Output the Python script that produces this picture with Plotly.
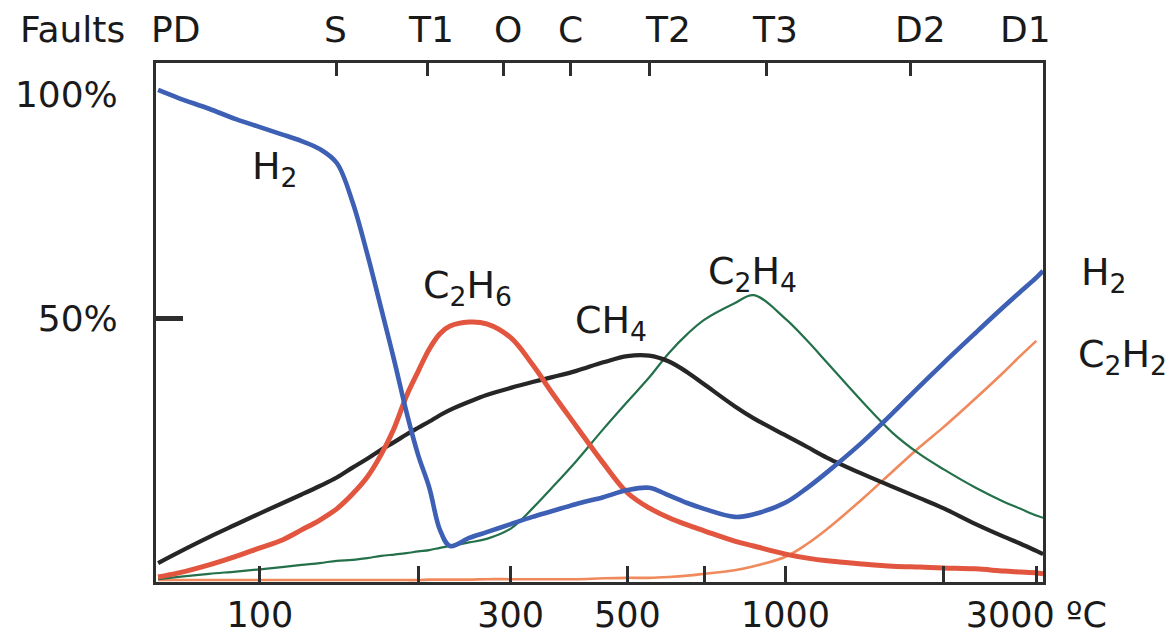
import math
import plotly.graph_objects as go

# Temperature grid (°C) at which the curves were read
temperature_c = [64, 70, 80, 90, 100, 110, 120, 130, 140, 150,
                 160, 170, 180, 190, 200, 210, 220, 230, 250, 270,
                 300, 330, 360, 400, 450, 500, 550, 600, 650, 700,
                 800, 870, 1000, 1100, 1200, 1400, 1600, 1800, 2000, 2300,
                 2600, 2800, 3000, 3090]

# Relative gas proportions (%)
h2_pct = [100.9, 99.1, 96.7, 94.4, 92.6, 91.0, 89.5, 87.7, 84.6, 75.9,
          64.3, 52.2, 40.6, 29.0, 19.4, 12.1, 2.7, -0.9, 0.9, 2.2,
          4.0, 5.6, 6.9, 8.5, 10.0, 11.6, 12.1, 10.4, 8.7, 7.4,
          5.6, 6.2, 8.8, 12.1, 15.6, 22.3, 28.8, 34.8, 40.0, 46.7,
          52.5, 55.9, 59.0, 60.5]

c2h6_pct = [-7.8, -6.9, -5.1, -3.2, -1.3, 0.4, 2.7, 4.9, 7.4, 10.7,
            14.5, 19.5, 25.4, 32.6, 38.1, 43.1, 46.5, 48.2, 49.1, 48.7,
            45.6, 39.6, 33.2, 25.8, 17.6, 11.0, 7.6, 5.4, 3.8, 2.5,
            0.2, -0.9, -2.7, -3.6, -4.2, -4.9, -5.4, -5.6, -5.8, -6.0,
            -6.5, -6.7, -6.9, -7.1]

ch4_pct = [-4.7, -2.3, 1.1, 3.9, 6.4, 8.6, 10.6, 12.5, 14.4, 16.6,
           18.6, 20.6, 22.3, 24.0, 25.5, 26.9, 28.3, 29.5, 31.3, 32.8,
           34.4, 35.7, 36.8, 38.2, 40.1, 41.5, 41.6, 40.3, 37.9, 35.2,
           30.3, 27.6, 23.8, 21.2, 18.8, 15.2, 12.3, 9.8, 7.5, 4.0,
           1.2, -0.4, -2.0, -2.7]

c2h4_pct = [-8.3, -7.8, -7.1, -6.6, -6.1, -5.6, -5.1, -4.7, -4.2, -4.0,
            -3.6, -3.1, -2.8, -2.5, -2.1, -1.8, -1.3, -0.9, -0.1, 0.7,
            3.0, 7.5, 12.2, 18.1, 25.2, 31.3, 36.7, 42.2, 46.4, 49.6,
            53.3, 55.1, 49.8, 44.9, 40.0, 31.3, 24.3, 19.6, 16.2, 12.1,
            9.0, 7.4, 5.9, 5.4]

c2h2_pct = [-8.5, -8.5, -8.5, -8.5, -8.5, -8.5, -8.5, -8.5, -8.5, -8.5,
            -8.5, -8.5, -8.5, -8.5, -8.5, -8.4, -8.4, -8.4, -8.4, -8.3,
            -8.3, -8.3, -8.3, -8.3, -8.1, -8.0, -8.0, -7.8, -7.5, -7.1,
            -6.3, -5.4, -3.3, -0.4, 2.9, 9.6, 15.8, 21.2, 25.7, 32.1,
            37.9, 41.6, 44.9, None]

# Bottom temperature axis
temp_tick_vals = [100, 200, 300, 500, 700, 1000, 2000, 3000]
temp_tick_text = ["100", "", "300", "500", "", "1000", "", "3000 \u00baC"]

# Top fault axis
fault_tick_temps = [140, 208, 290, 390, 550, 920, 1725]
fault_labels = ["PD", "S", "T1", "O", "C", "T2", "T3", "D2", "D1"]
fault_label_temps = [69, 139, 212, 296, 389, 597, 955, 1803, 2855]

# Y axis labels
pct_tick_vals = [50, 100]
pct_tick_text = ["50%", "100%"]

x_range = [1.8022, 3.4898]
y_range = [-8.93, 106.92]

FONT = "DejaVu Sans"
INK = "#1a1a1a"
AXIS = "#2e2e2e"

series = [
    ("C\u2082H\u2082", c2h2_pct, "#f08a5d", 2.6),
    ("C\u2082H\u2084", c2h4_pct, "#23704a", 2.2),
    ("CH\u2084", ch4_pct, "#262626", 4.2),
    ("C\u2082H\u2086", c2h6_pct, "#e2553e", 5.0),
    ("H\u2082", h2_pct, "#3d5fb4", 4.6),
]

fig = go.Figure()
for name, vals, color, width in series:
    fig.add_trace(go.Scatter(
        x=temperature_c, y=vals, mode="lines", name=name,
        line=dict(color=color, width=width, shape="spline", smoothing=1.0),
        connectgaps=False, hoverinfo="skip",
    ))

# invisible traces to attach the overlay axes
fig.add_trace(go.Scatter(x=[temperature_c[0]], y=[None], xaxis="x2", yaxis="y",
                         mode="lines", showlegend=False, hoverinfo="skip"))
fig.add_trace(go.Scatter(x=[temperature_c[0]], y=[None], xaxis="x", yaxis="y2",
                         mode="lines", showlegend=False, hoverinfo="skip"))

fig.update_layout(
    width=1174, height=640,
    margin=dict(l=156, r=131, t=63, b=58, autoexpand=False),
    paper_bgcolor="white", plot_bgcolor="white",
    showlegend=False,
    font=dict(family=FONT, color=INK, size=36),
    xaxis=dict(
        type="log", range=x_range, showgrid=False, zeroline=False,
        showline=True, linewidth=3, linecolor=AXIS, mirror=True,
        ticks="inside", ticklen=16, tickwidth=3, tickcolor=AXIS,
        tickvals=temp_tick_vals, ticktext=temp_tick_text,
        tickfont=dict(family=FONT, size=35, color=INK),
        ticklabelstandoff=0, automargin=False,
    ),
    xaxis2=dict(
        type="log", range=x_range, overlaying="x", side="top",
        showgrid=False, zeroline=False, showline=False,
        ticks="inside", ticklen=13, tickwidth=3, tickcolor=AXIS,
        tickvals=fault_tick_temps, showticklabels=False, automargin=False,
    ),
    yaxis=dict(
        range=y_range, showgrid=False, zeroline=False,
        showline=True, linewidth=3, linecolor=AXIS, mirror=True,
        ticks="", tickvals=pct_tick_vals, ticktext=pct_tick_text,
        tickfont=dict(family=FONT, size=36, color=INK),
        ticklabelstandoff=28, automargin=False,
    ),
    yaxis2=dict(
        range=y_range, overlaying="y", side="left", anchor="x",
        showgrid=False, zeroline=False, showline=False,
        ticks="inside", ticklen=27, tickwidth=5, tickcolor=AXIS,
        tickvals=[50], showticklabels=False, automargin=False,
    ),
)

annotations = []
# Top fault labels
annotations.append(dict(text="Faults", x=-0.0947, y=1.0636, xref="paper", yref="paper",
                        showarrow=False, xanchor="center", yanchor="middle",
                        font=dict(family=FONT, size=36, color=INK)))
for lab, t in zip(fault_labels, fault_label_temps):
    annotations.append(dict(text=lab, x=math.log10(t), y=1.0636, xref="x", yref="paper",
                            showarrow=False, xanchor="center", yanchor="middle",
                            font=dict(family=FONT, size=36, color=INK)))

# Curve labels inside the plot (temperature, percent)
curve_labels = [
    ("H<sub>2</sub>", 107, 83.3),
    ("C<sub>2</sub>H<sub>6</sub>", 248, 56.7),
    ("CH<sub>4</sub>", 465, 49.1),
    ("C<sub>2</sub>H<sub>4</sub>", 867, 60.0),
]
for txt, t, v in curve_labels:
    annotations.append(dict(text=txt, x=math.log10(t), y=v, xref="x", yref="y",
                            showarrow=False, xanchor="center", yanchor="middle",
                            font=dict(family=FONT, size=38, color=INK)))

# End-of-curve labels to the right of the frame
right_labels = [
    ("H<sub>2</sub>", 1.0688, 59.6),
    ("C<sub>2</sub>H<sub>2</sub>", 1.0891, 41.3),
]
for txt, xp, v in right_labels:
    annotations.append(dict(text=txt, x=xp, y=v, xref="paper", yref="y",
                            showarrow=False, xanchor="center", yanchor="middle",
                            font=dict(family=FONT, size=38, color=INK)))

fig.update_layout(annotations=annotations)

fig.write_html("out.html")
